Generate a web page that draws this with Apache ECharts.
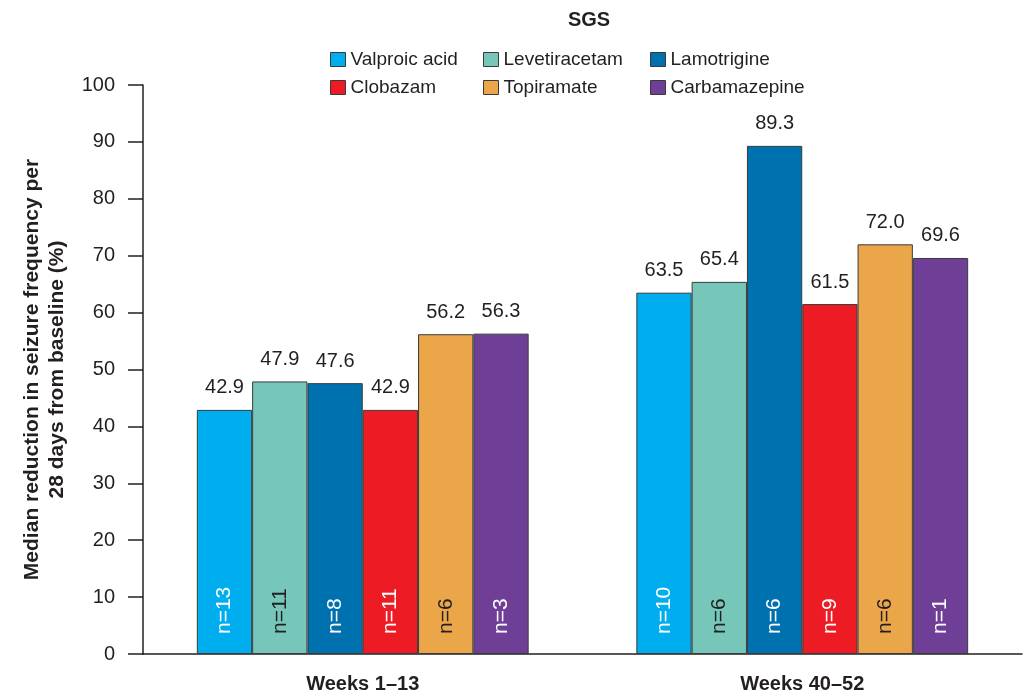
<!DOCTYPE html>
<html><head><meta charset="utf-8">
<script src="https://cdn.jsdelivr.net/npm/echarts@6/dist/echarts.min.js"></script>
<style>html,body{margin:0;padding:0;background:#fff}#c{width:1029px;height:694px}</style>
</head><body><div id="c"></div>
<script>
const categories = ['Weeks 1\u201313', 'Weeks 40\u201352'];
const drugs = ['Valproic acid', 'Levetiracetam', 'Lamotrigine', 'Clobazam', 'Topiramate', 'Carbamazepine'];
const valproic = [42.9, 63.5];
const levetiracetam = [47.9, 65.4];
const lamotrigine = [47.6, 89.3];
const clobazam = [42.9, 61.5];
const topiramate = [56.2, 72.0];
const carbamazepine = [56.3, 69.6];
const nValproic = [13, 10];
const nLevetiracetam = [11, 6];
const nLamotrigine = [8, 6];
const nClobazam = [11, 9];
const nTopiramate = [6, 6];
const nCarbamazepine = [3, 1];
const yTicks = [0, 10, 20, 30, 40, 50, 60, 70, 80, 90, 100];

const values = [valproic, levetiracetam, lamotrigine, clobazam, topiramate, carbamazepine];
const ns = [nValproic, nLevetiracetam, nLamotrigine, nClobazam, nTopiramate, nCarbamazepine];
const colors = ['#00AEEF', '#76C7BA', '#0071AF', '#ED1C24', '#EBA649', '#6F3F98'];
const nColors = ['#ffffff', '#231f20', '#ffffff', '#ffffff', '#231f20', '#ffffff'];
const FONT = '"Liberation Sans", Arial, sans-serif';

const series = [];
drugs.forEach((d, k) => {
  series.push({
    name: d, type: 'bar', xAxisIndex: 0, data: values[k],
    barGap: '0%', barCategoryGap: '24.5%',
    itemStyle: { color: colors[k], borderColor: '#3a3a3a', borderWidth: 1 },
    label: { show: true, position: 'top', distance: 12, color: '#231f20', fontSize: 20, fontFamily: FONT,
      formatter: p => values[k][p.dataIndex].toFixed(1) }
  });
});
drugs.forEach((d, k) => {
  series.push({
    name: d, type: 'bar', xAxisIndex: 1, data: values[k],
    barGap: '0%', barCategoryGap: '24.5%',
    itemStyle: { color: 'rgba(0,0,0,0)', borderWidth: 0 },
    label: { show: true, position: 'insideBottom', distance: 20, rotate: 90, align: 'left', verticalAlign: 'middle',
      color: nColors[k], fontSize: 21, fontFamily: FONT,
      formatter: p => 'n=' + ns[k][p.dataIndex] },
    silent: true
  });
});

const legendBase = {
  orient: 'vertical', top: 44, itemWidth: 15, itemHeight: 14, itemGap: 7, icon: 'rect',
  itemStyle: { borderColor: '#3a3a3a', borderWidth: 1 },
  textStyle: { fontSize: 19, fontFamily: FONT, color: '#231f20', lineHeight: 21 }
};

const chart = echarts.init(document.getElementById('c'), null, { renderer: 'canvas' });
chart.setOption({
  animation: false,
  backgroundColor: '#fff',
  title: { text: 'SGS', left: 584, top: 5, textAlign: 'center',
    textStyle: { fontSize: 20, fontWeight: 'bold', fontFamily: FONT, color: '#231f20' } },
  legend: [
    Object.assign({}, legendBase, { left: 325, data: [drugs[0], drugs[3]] }),
    Object.assign({}, legendBase, { left: 478, data: [drugs[1], drugs[4]] }),
    Object.assign({}, legendBase, { left: 645, data: [drugs[2], drugs[5]] })
  ],
  grid: { left: 143, right: 7, top: 85, bottom: 40, containLabel: false },
  xAxis: [
    { type: 'category', data: categories,
      axisLine: { lineStyle: { color: '#231f20', width: 1.5 } }, axisTick: { show: false },
      axisLabel: { fontSize: 20, fontWeight: 'bold', fontFamily: FONT, color: '#231f20', margin: 20 } },
    { type: 'category', data: categories, show: false }
  ],
  yAxis: {
    type: 'value', min: yTicks[0], max: yTicks[yTicks.length - 1], interval: 10,
    name: 'Median reduction in seizure frequency per\n28 days from baseline (%)',
    nameLocation: 'middle', nameGap: 73,
    nameTextStyle: { fontSize: 21, fontWeight: 'bold', fontFamily: FONT, color: '#231f20', lineHeight: 25 },
    axisLine: { show: true, lineStyle: { color: '#231f20', width: 1.5 } },
    axisTick: { show: true, length: 15, lineStyle: { color: '#231f20', width: 1.5 } },
    axisLabel: { fontSize: 20, fontFamily: FONT, color: '#231f20', margin: 28 },
    splitLine: { show: false }
  },
  series: series
});
</script></body></html>
